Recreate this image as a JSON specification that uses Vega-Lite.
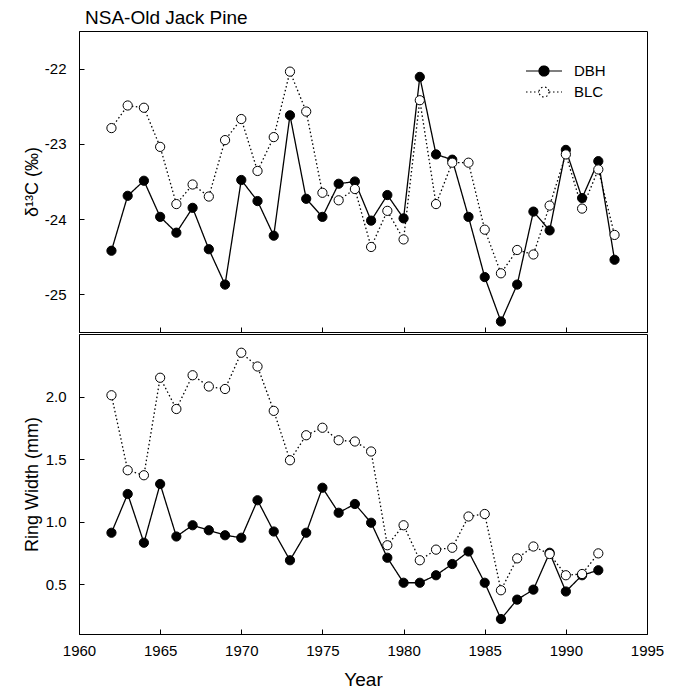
{
  "$schema": "https://vega.github.io/schema/vega-lite/v6.json",
  "padding": {"left": 22, "top": 8, "right": 10, "bottom": 2},
  "spacing": 0,
  "config": {
    "font": "Liberation Sans",
    "view": {"stroke": "black", "strokeWidth": 1},
    "axis": {
      "domainColor": "black", "tickColor": "black", "tickSize": -5, "tickWidth": 1,
      "labelColor": "black", "titleColor": "black", "labelFontSize": 15, "titleFontSize": 18,
      "titleFontWeight": "normal", "grid": false, "labelFlush": false, "labelOverlap": false,
      "labelFont": "Liberation Sans", "titleFont": "Liberation Sans"
    },
    "legend": {
      "symbolType": "M-2.25,0L-0.625,0M0.625,0L2.25,0M0.625,0A0.625,0.625,0,1,1,-0.625,0A0.625,0.625,0,1,1,0.625,0Z",
      "symbolSize": 256, "symbolStrokeColor": "black", "symbolStrokeWidth": 1.2,
      "labelFontSize": 15, "labelFont": "Liberation Sans", "labelColor": "black",
      "labelOffset": 21, "rowPadding": 4, "padding": 0
    }
  },
  "datasets": {
    "d13c": [
      {"year": 1962, "series": "DBH", "value": -24.42},
      {"year": 1963, "series": "DBH", "value": -23.69},
      {"year": 1964, "series": "DBH", "value": -23.49},
      {"year": 1965, "series": "DBH", "value": -23.97},
      {"year": 1966, "series": "DBH", "value": -24.18},
      {"year": 1967, "series": "DBH", "value": -23.85},
      {"year": 1968, "series": "DBH", "value": -24.40},
      {"year": 1969, "series": "DBH", "value": -24.87},
      {"year": 1970, "series": "DBH", "value": -23.48},
      {"year": 1971, "series": "DBH", "value": -23.76},
      {"year": 1972, "series": "DBH", "value": -24.22},
      {"year": 1973, "series": "DBH", "value": -22.62},
      {"year": 1974, "series": "DBH", "value": -23.73},
      {"year": 1975, "series": "DBH", "value": -23.97},
      {"year": 1976, "series": "DBH", "value": -23.53},
      {"year": 1977, "series": "DBH", "value": -23.50},
      {"year": 1978, "series": "DBH", "value": -24.02},
      {"year": 1979, "series": "DBH", "value": -23.68},
      {"year": 1980, "series": "DBH", "value": -23.99},
      {"year": 1981, "series": "DBH", "value": -22.11},
      {"year": 1982, "series": "DBH", "value": -23.14},
      {"year": 1983, "series": "DBH", "value": -23.21},
      {"year": 1984, "series": "DBH", "value": -23.97},
      {"year": 1985, "series": "DBH", "value": -24.77},
      {"year": 1986, "series": "DBH", "value": -25.36},
      {"year": 1987, "series": "DBH", "value": -24.87},
      {"year": 1988, "series": "DBH", "value": -23.90},
      {"year": 1989, "series": "DBH", "value": -24.15},
      {"year": 1990, "series": "DBH", "value": -23.08},
      {"year": 1991, "series": "DBH", "value": -23.72},
      {"year": 1992, "series": "DBH", "value": -23.23},
      {"year": 1993, "series": "DBH", "value": -24.54},
      {"year": 1962, "series": "BLC", "value": -22.79},
      {"year": 1963, "series": "BLC", "value": -22.49},
      {"year": 1964, "series": "BLC", "value": -22.52},
      {"year": 1965, "series": "BLC", "value": -23.04},
      {"year": 1966, "series": "BLC", "value": -23.80},
      {"year": 1967, "series": "BLC", "value": -23.54},
      {"year": 1968, "series": "BLC", "value": -23.70},
      {"year": 1969, "series": "BLC", "value": -22.95},
      {"year": 1970, "series": "BLC", "value": -22.67},
      {"year": 1971, "series": "BLC", "value": -23.36},
      {"year": 1972, "series": "BLC", "value": -22.91},
      {"year": 1973, "series": "BLC", "value": -22.04},
      {"year": 1974, "series": "BLC", "value": -22.57},
      {"year": 1975, "series": "BLC", "value": -23.65},
      {"year": 1976, "series": "BLC", "value": -23.75},
      {"year": 1977, "series": "BLC", "value": -23.60},
      {"year": 1978, "series": "BLC", "value": -24.37},
      {"year": 1979, "series": "BLC", "value": -23.89},
      {"year": 1980, "series": "BLC", "value": -24.27},
      {"year": 1981, "series": "BLC", "value": -22.42},
      {"year": 1982, "series": "BLC", "value": -23.80},
      {"year": 1983, "series": "BLC", "value": -23.25},
      {"year": 1984, "series": "BLC", "value": -23.25},
      {"year": 1985, "series": "BLC", "value": -24.14},
      {"year": 1986, "series": "BLC", "value": -24.72},
      {"year": 1987, "series": "BLC", "value": -24.41},
      {"year": 1988, "series": "BLC", "value": -24.47},
      {"year": 1989, "series": "BLC", "value": -23.82},
      {"year": 1990, "series": "BLC", "value": -23.14},
      {"year": 1991, "series": "BLC", "value": -23.86},
      {"year": 1992, "series": "BLC", "value": -23.34},
      {"year": 1993, "series": "BLC", "value": -24.21}
    ],
    "rw": [
      {"year": 1962, "series": "DBH", "value": 0.91},
      {"year": 1963, "series": "DBH", "value": 1.22},
      {"year": 1964, "series": "DBH", "value": 0.83},
      {"year": 1965, "series": "DBH", "value": 1.30},
      {"year": 1966, "series": "DBH", "value": 0.88},
      {"year": 1967, "series": "DBH", "value": 0.97},
      {"year": 1968, "series": "DBH", "value": 0.93},
      {"year": 1969, "series": "DBH", "value": 0.89},
      {"year": 1970, "series": "DBH", "value": 0.87},
      {"year": 1971, "series": "DBH", "value": 1.17},
      {"year": 1972, "series": "DBH", "value": 0.92},
      {"year": 1973, "series": "DBH", "value": 0.69},
      {"year": 1974, "series": "DBH", "value": 0.91},
      {"year": 1975, "series": "DBH", "value": 1.27},
      {"year": 1976, "series": "DBH", "value": 1.07},
      {"year": 1977, "series": "DBH", "value": 1.14},
      {"year": 1978, "series": "DBH", "value": 0.99},
      {"year": 1979, "series": "DBH", "value": 0.71},
      {"year": 1980, "series": "DBH", "value": 0.51},
      {"year": 1981, "series": "DBH", "value": 0.51},
      {"year": 1982, "series": "DBH", "value": 0.57},
      {"year": 1983, "series": "DBH", "value": 0.66},
      {"year": 1984, "series": "DBH", "value": 0.76},
      {"year": 1985, "series": "DBH", "value": 0.51},
      {"year": 1986, "series": "DBH", "value": 0.22},
      {"year": 1987, "series": "DBH", "value": 0.375},
      {"year": 1988, "series": "DBH", "value": 0.455},
      {"year": 1989, "series": "DBH", "value": 0.75},
      {"year": 1990, "series": "DBH", "value": 0.44},
      {"year": 1991, "series": "DBH", "value": 0.57},
      {"year": 1992, "series": "DBH", "value": 0.61},
      {"year": 1962, "series": "BLC", "value": 2.01},
      {"year": 1963, "series": "BLC", "value": 1.41},
      {"year": 1964, "series": "BLC", "value": 1.37},
      {"year": 1965, "series": "BLC", "value": 2.15},
      {"year": 1966, "series": "BLC", "value": 1.90},
      {"year": 1967, "series": "BLC", "value": 2.17},
      {"year": 1968, "series": "BLC", "value": 2.08},
      {"year": 1969, "series": "BLC", "value": 2.06},
      {"year": 1970, "series": "BLC", "value": 2.35},
      {"year": 1971, "series": "BLC", "value": 2.24},
      {"year": 1972, "series": "BLC", "value": 1.885},
      {"year": 1973, "series": "BLC", "value": 1.49},
      {"year": 1974, "series": "BLC", "value": 1.69},
      {"year": 1975, "series": "BLC", "value": 1.75},
      {"year": 1976, "series": "BLC", "value": 1.65},
      {"year": 1977, "series": "BLC", "value": 1.64},
      {"year": 1978, "series": "BLC", "value": 1.56},
      {"year": 1979, "series": "BLC", "value": 0.81},
      {"year": 1980, "series": "BLC", "value": 0.97},
      {"year": 1981, "series": "BLC", "value": 0.69},
      {"year": 1982, "series": "BLC", "value": 0.775},
      {"year": 1983, "series": "BLC", "value": 0.79},
      {"year": 1984, "series": "BLC", "value": 1.04},
      {"year": 1985, "series": "BLC", "value": 1.06},
      {"year": 1986, "series": "BLC", "value": 0.45},
      {"year": 1987, "series": "BLC", "value": 0.705},
      {"year": 1988, "series": "BLC", "value": 0.80},
      {"year": 1989, "series": "BLC", "value": 0.74},
      {"year": 1990, "series": "BLC", "value": 0.57},
      {"year": 1991, "series": "BLC", "value": 0.58},
      {"year": 1992, "series": "BLC", "value": 0.745}
    ]
  },
  "resolve": {"scale": {"x": "shared", "y": "independent", "fill": "independent", "strokeDash": "independent"}},
  "vconcat": [
    {
      "title": {"text": "NSA-Old Jack Pine", "anchor": "start", "frame": "group", "fontSize": 19, "fontWeight": "normal", "font": "Liberation Sans", "color": "black", "offset": 3, "dx": 6},
      "width": 568,
      "height": 301,
      "data": {"name": "d13c"},
      "encoding": {
        "x": {"field": "year", "type": "quantitative", "scale": {"domain": [1960, 1995], "nice": false, "zero": false},
              "axis": {"labels": false, "title": null, "values": [1960, 1965, 1970, 1975, 1980, 1985, 1990, 1995]}},
        "y": {"field": "value", "type": "quantitative", "scale": {"domain": [-25.5, -21.5], "nice": false, "zero": false},
              "axis": {"title": "δ¹³C (‰)", "values": [-25, -24, -23, -22], "labelExpr": "replace(datum.label, '\u2212', '-')", "labelPadding": 18, "titleX": -38}}
      },
      "layer": [
        {
          "mark": {"type": "line", "color": "black", "strokeWidth": 1.3},
          "encoding": {
            "strokeDash": {"field": "series", "type": "nominal", "scale": {"domain": ["DBH", "BLC"], "range": [[1, 0], [1.5, 2.5]]},
                           "legend": {"orient": "none", "legendX": 456, "legendY": 31, "title": null}}
          }
        },
        {
          "mark": {"type": "point", "shape": "circle", "filled": true, "size": 85, "stroke": "black", "strokeWidth": 1, "opacity": 1},
          "encoding": {
            "fill": {"field": "series", "type": "nominal", "scale": {"domain": ["DBH", "BLC"], "range": ["black", "white"]},
                     "legend": {"orient": "none", "legendX": 456, "legendY": 31, "title": null}}
          }
        }
      ]
    },
    {
      "width": 568,
      "height": 300,
      "data": {"name": "rw"},
      "encoding": {
        "x": {"field": "year", "type": "quantitative", "scale": {"domain": [1960, 1995], "nice": false, "zero": false},
              "axis": {"title": "Year", "format": "d", "values": [1960, 1965, 1970, 1975, 1980, 1985, 1990, 1995], "labelPadding": 14, "titlePadding": 12, "titleFontSize": 19}},
        "y": {"field": "value", "type": "quantitative", "scale": {"domain": [0.1, 2.5], "nice": false, "zero": false},
              "axis": {"title": "Ring Width (mm)", "format": ".1f", "values": [0.5, 1.0, 1.5, 2.0], "labelPadding": 18, "titleX": -38}}
      },
      "layer": [
        {
          "mark": {"type": "line", "color": "black", "strokeWidth": 1.3},
          "encoding": {
            "strokeDash": {"field": "series", "type": "nominal", "scale": {"domain": ["DBH", "BLC"], "range": [[1, 0], [1.5, 2.5]]}, "legend": null}
          }
        },
        {
          "mark": {"type": "point", "shape": "circle", "filled": true, "size": 85, "stroke": "black", "strokeWidth": 1, "opacity": 1},
          "encoding": {
            "fill": {"field": "series", "type": "nominal", "scale": {"domain": ["DBH", "BLC"], "range": ["black", "white"]}, "legend": null}
          }
        }
      ]
    }
  ]
}
